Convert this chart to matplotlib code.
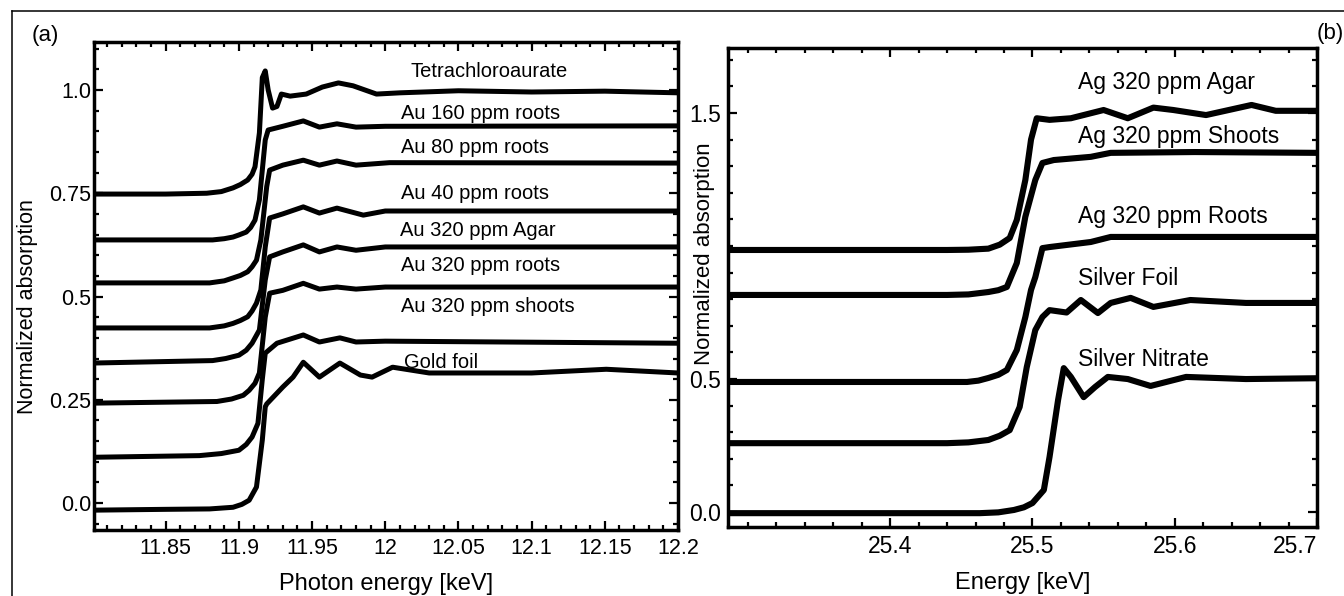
import matplotlib
matplotlib.use("Agg")
import matplotlib.pyplot as plt
from matplotlib.lines import Line2D
from matplotlib.ticker import MultipleLocator

plt.rcParams['font.family'] = ['Liberation Sans', 'DejaVu Sans']

# ---- panel (a): Au L3-edge spectra (energy in keV, normalized absorption)
tetra_e = [11.80, 11.85, 11.878, 11.888, 11.896, 11.901, 11.906, 11.909, 11.911,
           11.914, 11.916, 11.918, 11.920, 11.923, 11.926, 11.929, 11.935, 11.946,
           11.957, 11.968, 11.978, 11.994, 12.01, 12.05, 12.10, 12.15, 12.20]
tetra_mu = [0.748, 0.748, 0.750, 0.754, 0.763, 0.771, 0.782, 0.796, 0.814,
            0.896, 1.03, 1.046, 1.00, 0.956, 0.960, 0.990, 0.985, 0.990,
            1.007, 1.017, 1.010, 0.990, 0.993, 0.998, 0.995, 0.997, 0.993]

au160_e = [11.80, 11.882, 11.890, 11.896, 11.900, 11.905, 11.908, 11.911, 11.914,
           11.918, 11.920, 11.930, 11.944, 11.955, 11.967, 11.98, 12.0, 12.2]
au160_mu = [0.637, 0.637, 0.640, 0.644, 0.649, 0.656, 0.667, 0.685, 0.734,
            0.879, 0.903, 0.912, 0.925, 0.910, 0.918, 0.910, 0.912, 0.913]

au80_e = [11.80, 11.880, 11.890, 11.896, 11.901, 11.906, 11.909, 11.912, 11.915,
          11.919, 11.921, 11.930, 11.944, 11.955, 11.967, 11.98, 12.003, 12.2]
au80_mu = [0.533, 0.533, 0.538, 0.545, 0.551, 0.560, 0.572, 0.588, 0.637,
           0.766, 0.806, 0.818, 0.830, 0.818, 0.828, 0.818, 0.824, 0.823]

au40_e = [11.80, 11.880, 11.890, 11.896, 11.901, 11.906, 11.909, 11.912, 11.915,
          11.918, 11.921, 11.930, 11.944, 11.955, 11.967, 11.985, 12.0, 12.2]
au40_mu = [0.424, 0.424, 0.429, 0.435, 0.442, 0.451, 0.465, 0.484, 0.516,
           0.620, 0.690, 0.700, 0.717, 0.702, 0.714, 0.697, 0.707, 0.707]

agar_e = [11.80, 11.882, 11.891, 11.900, 11.905, 11.909, 11.914, 11.918, 11.921,
          11.930, 11.944, 11.955, 11.967, 11.98, 12.0, 12.2]
agar_mu = [0.339, 0.345, 0.350, 0.358, 0.370, 0.387, 0.419, 0.540, 0.596,
           0.608, 0.625, 0.608, 0.620, 0.612, 0.620, 0.620]

roots_e = [11.80, 11.885, 11.895, 11.903, 11.907, 11.911, 11.914, 11.918, 11.921,
           11.930, 11.944, 11.955, 11.967, 11.98, 12.0, 12.2]
roots_mu = [0.242, 0.246, 0.252, 0.261, 0.273, 0.290, 0.315, 0.450, 0.508,
            0.515, 0.532, 0.518, 0.523, 0.518, 0.523, 0.523]

shoots_e = [11.80, 11.873, 11.888, 11.900, 11.905, 11.909, 11.913, 11.916, 11.918,
            11.926, 11.944, 11.955, 11.969, 11.98, 12.0, 12.2]
shoots_mu = [0.111, 0.115, 0.120, 0.128, 0.142, 0.160, 0.193, 0.300, 0.363,
             0.387, 0.407, 0.390, 0.400, 0.390, 0.392, 0.387]

foil_e = [11.80, 11.85, 11.880, 11.896, 11.902, 11.907, 11.912, 11.916, 11.918,
          11.919, 11.930, 11.937, 11.944, 11.955, 11.969, 11.983, 11.991, 12.005,
          12.03, 12.10, 12.151, 12.2]
foil_mu = [-0.017, -0.015, -0.014, -0.010, -0.003, 0.007, 0.039, 0.153, 0.233,
           0.240, 0.281, 0.305, 0.341, 0.305, 0.339, 0.310, 0.305, 0.329,
           0.315, 0.315, 0.324, 0.315]

au_curves = [(tetra_e, tetra_mu), (au160_e, au160_mu), (au80_e, au80_mu),
             (au40_e, au40_mu), (agar_e, agar_mu), (roots_e, roots_mu),
             (shoots_e, shoots_mu), (foil_e, foil_mu)]
au_names = ['Tetrachloroaurate', 'Au 160 ppm roots', 'Au 80 ppm roots',
            'Au 40 ppm roots', 'Au 320 ppm Agar', 'Au 320 ppm roots',
            'Au 320 ppm shoots', 'Gold foil']
au_label_y = [1.045, 0.944, 0.86, 0.75, 0.661, 0.576, 0.475, 0.341]
au_label_x = [12.017, 12.011, 12.011, 12.011, 12.010, 12.011, 12.011, 12.013]

au_xticks = [11.85, 11.9, 11.95, 12.0, 12.05, 12.1, 12.15, 12.2]
au_xticklabels = ['11.85', '11.9', '11.95', '12', '12.05', '12.1', '12.15', '12.2']
au_yticks = [0.0, 0.25, 0.5, 0.75, 1.0]
au_yticklabels = ['0.0', '0.25', '0.5', '0.75', '1.0']

# ---- panel (b): Ag K-edge spectra
ag_agar_e = [25.286, 25.44, 25.455, 25.469, 25.477, 25.484, 25.489, 25.495, 25.499,
             25.503, 25.512, 25.527, 25.55, 25.567, 25.585, 25.599, 25.622, 25.654,
             25.671, 25.70]
ag_agar_mu = [0.985, 0.985, 0.986, 0.990, 1.005, 1.030, 1.098, 1.248, 1.400,
              1.480, 1.474, 1.480, 1.511, 1.480, 1.520, 1.511, 1.492, 1.530,
              1.508, 1.508]

ag_shoots_e = [25.286, 25.44, 25.455, 25.469, 25.476, 25.482, 25.489, 25.495,
               25.502, 25.507, 25.515, 25.541, 25.555, 25.614, 25.70]
ag_shoots_mu = [0.816, 0.816, 0.818, 0.827, 0.834, 0.846, 0.936, 1.110,
                1.248, 1.312, 1.323, 1.335, 1.350, 1.353, 1.350]

ag_roots_e = [25.286, 25.454, 25.462, 25.469, 25.476, 25.482, 25.489, 25.495,
              25.499, 25.502, 25.507, 25.512, 25.541, 25.555, 25.70]
ag_roots_mu = [0.489, 0.489, 0.494, 0.504, 0.516, 0.534, 0.609, 0.733,
               0.835, 0.883, 0.992, 0.996, 1.015, 1.034, 1.034]

ag_foil_e = [25.286, 25.44, 25.455, 25.469, 25.477, 25.484, 25.491, 25.496, 25.502,
             25.507, 25.512, 25.524, 25.534, 25.546, 25.555, 25.569, 25.585, 25.611,
             25.65, 25.70]
ag_foil_mu = [0.259, 0.259, 0.262, 0.271, 0.287, 0.308, 0.395, 0.545, 0.684,
              0.733, 0.759, 0.750, 0.797, 0.748, 0.786, 0.805, 0.771, 0.797,
              0.786, 0.786]

ag_nitrate_e = [25.286, 25.463, 25.476, 25.487, 25.494, 25.50, 25.508, 25.512,
                25.518, 25.522, 25.527, 25.536, 25.544, 25.553, 25.567, 25.583,
                25.608, 25.65, 25.70]
ag_nitrate_mu = [-0.004, -0.004, -0.001, 0.008, 0.018, 0.034, 0.083, 0.207,
                 0.421, 0.541, 0.508, 0.432, 0.470, 0.508, 0.500, 0.474,
                 0.508, 0.500, 0.503]

ag_curves = [(ag_agar_e, ag_agar_mu), (ag_shoots_e, ag_shoots_mu),
             (ag_roots_e, ag_roots_mu), (ag_foil_e, ag_foil_mu),
             (ag_nitrate_e, ag_nitrate_mu)]
ag_names = ['Ag 320 ppm Agar', 'Ag 320 ppm Shoots', 'Ag 320 ppm Roots',
            'Silver Foil', 'Silver Nitrate']
ag_label_y = [1.613, 1.41, 1.109, 0.876, 0.575]
ag_label_x = 25.532

ag_xticks = [25.4, 25.5, 25.6, 25.7]
ag_yticks = [0.0, 0.5, 1.5]
ag_yticklabels = ['0.0', '0.5', '1.5']


def style_axes(ax):
    for s in ax.spines.values():
        s.set_linewidth(2.5)
    ax.tick_params(which='both', direction='in', top=True, right=True,
                   width=1.6, color='black')
    ax.tick_params(which='major', length=6.5)
    ax.tick_params(which='minor', length=3.5)


fig = plt.figure(figsize=(13.44, 5.96), dpi=100)

# ---------------- panel (a)
ax1 = fig.add_axes([94 / 1344, 1 - 530 / 596, 584 / 1344, 488 / 596])
for (e, mu) in au_curves:
    ax1.plot(e, mu, color='black', lw=3.6, solid_joinstyle='round')
for name, lx, ly in zip(au_names, au_label_x, au_label_y):
    ax1.text(lx, ly, name, fontsize=14.5, ha='left', va='center')

ax1.set_xlim(11.801, 12.2)
ax1.set_ylim(-0.065, 1.116)
ax1.set_xticks(au_xticks)
ax1.set_xticklabels(au_xticklabels)
ax1.set_yticks(au_yticks)
ax1.set_yticklabels(au_yticklabels)
ax1.xaxis.set_minor_locator(MultipleLocator(0.01))
ax1.yaxis.set_minor_locator(MultipleLocator(0.05))
style_axes(ax1)
ax1.tick_params(axis='x', labelsize=15.5, pad=6)
ax1.tick_params(axis='y', labelsize=15.5, pad=2)
ax1.set_xlabel('Photon energy [keV]', fontsize=17, labelpad=10)
ax1.set_ylabel('Normalized absorption', fontsize=15.5)
ax1.yaxis.set_label_coords(-0.096, 0.457)

# ---------------- panel (b)
ax2 = fig.add_axes([728 / 1344, 1 - 527 / 596, 589 / 1344, 479 / 596])
for (e, mu) in ag_curves:
    ax2.plot(e, mu, color='black', lw=4.4, solid_joinstyle='round')
for name, ly in zip(ag_names, ag_label_y):
    ax2.text(ag_label_x, ly, name, fontsize=16.5, ha='left', va='center')

ax2.set_xlim(25.286, 25.7)
ax2.set_ylim(-0.056, 1.744)
ax2.set_xticks(ag_xticks)
ax2.set_yticks(ag_yticks)
ax2.set_yticklabels(ag_yticklabels)
ax2.xaxis.set_minor_locator(MultipleLocator(0.02))
ax2.yaxis.set_minor_locator(MultipleLocator(0.1))
style_axes(ax2)
ax2.tick_params(axis='x', labelsize=16.5, pad=6)
ax2.tick_params(axis='y', labelsize=16.5, pad=5)
ax2.get_xticklabels()[-1].set_ha('right')
ax2.set_xlabel('Energy [keV]', fontsize=17, labelpad=10)
ax2.set_ylabel('Normalized absorption', fontsize=16)
ax2.yaxis.set_label_coords(-0.022, 0.57)

# panel letters and the partial frame around the figure
fig.text(45 / 1344, 1 - 35 / 596, '(a)', fontsize=16, ha='center', va='center')
fig.text(1330 / 1344, 1 - 33 / 596, '(b)', fontsize=16, ha='center', va='center')
top = 1 - 11 / 596
left = 12 / 1344
fig.add_artist(Line2D([left, 1], [top, top], color='black', lw=1.1))
fig.add_artist(Line2D([left, left], [0, top], color='black', lw=1.1))

fig.savefig('out.png', dpi=100)
